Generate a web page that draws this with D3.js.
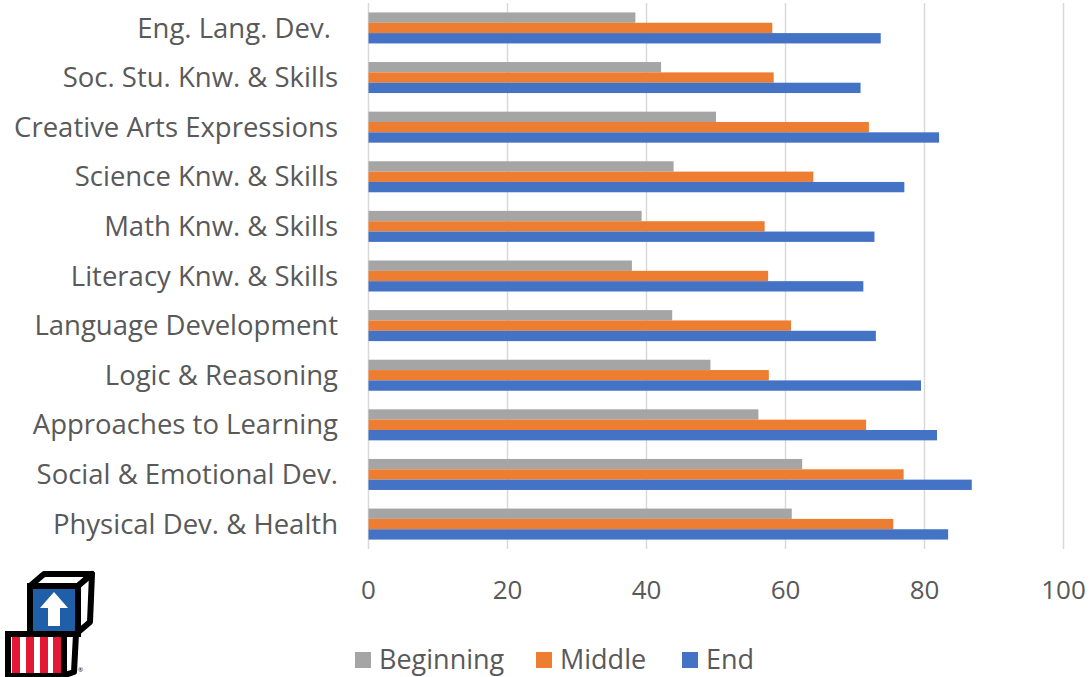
<!DOCTYPE html>
<html>
<head>
<meta charset="utf-8">
<script src="https://cdn.jsdelivr.net/npm/d3@7"></script>
<style>
  body { margin: 0; background: #fff; }
  svg { display: block; font-family: "Open Sans", sans-serif; }
</style>
</head>
<body>
<svg id="chart" width="1090" height="677"></svg>
<script>
// categories, top to bottom as shown
var categories = ['Eng. Lang. Dev. ', 'Soc. Stu. Knw. & Skills', 'Creative Arts Expressions',
  'Science Knw. & Skills', 'Math Knw. & Skills', 'Literacy Knw. & Skills', 'Language Development',
  'Logic & Reasoning', 'Approaches to Learning', 'Social & Emotional Dev.', 'Physical Dev. & Health'];
var series = ['Beginning', 'Middle', 'End'];
var beginning = [38.4, 42.1, 50.0, 43.9, 39.3, 37.9, 43.7, 49.2, 56.1, 62.4, 60.9];
var middle    = [58.1, 58.3, 72.0, 64.0, 57.0, 57.5, 60.8, 57.6, 71.6, 77.0, 75.5];
var end       = [73.7, 70.8, 82.1, 77.1, 72.8, 71.2, 73.0, 79.5, 81.8, 86.8, 83.4];
var xTicks = [0, 20, 40, 60, 80, 100];
var colors = ['#a5a5a5', '#ed7d31', '#4472c4'];

var values = [beginning, middle, end];
var rows = categories.map(function (c, i) {
  return {cat: c, vals: series.map(function (s, j) { return {s: s, v: values[j][i]}; })};
});

var svg = d3.select('#chart');
var x = d3.scaleLinear().domain([0, 100]).range([368.5, 1063.5]);
var y = d3.scaleBand().domain(categories).range([3, 549]).paddingInner(0.375).paddingOuter(0.19);
var yInner = d3.scaleBand().domain(series).range([0, y.bandwidth()]);
var color = d3.scaleOrdinal().domain(series).range(colors);

// gridlines
svg.append('g').selectAll('line').data(xTicks).enter().append('line')
  .attr('x1', function (d) { return x(d); }).attr('x2', function (d) { return x(d); })
  .attr('y1', 3).attr('y2', 549)
  .attr('stroke', '#d9d9d9').attr('stroke-width', 1.5);

// bars
var groups = svg.append('g').selectAll('g').data(rows).enter().append('g')
  .attr('transform', function (d) { return 'translate(0,' + y(d.cat) + ')'; });
groups.selectAll('rect').data(function (d) { return d.vals; }).enter().append('rect')
  .attr('x', x(0))
  .attr('y', function (d) { return yInner(d.s); })
  .attr('width', function (d) { return x(d.v) - x(0); })
  .attr('height', yInner.bandwidth())
  .attr('fill', function (d) { return color(d.s); });

// category labels
svg.append('g').selectAll('text').data(categories).enter().append('text')
  .attr('x', 338)
  .attr('y', function (d) { return y(d) + y.bandwidth() / 2; })
  .attr('dy', '0.35em')
  .attr('text-anchor', 'end')
  .attr('xml:space', 'preserve')
  .attr('font-size', 27.5).attr('fill', '#595959')
  .text(function (d) { return d; });

// x tick labels
svg.append('g').selectAll('text').data(xTicks).enter().append('text')
  .attr('x', function (d) { return x(d); })
  .attr('y', 590).attr('dy', '0.35em')
  .attr('text-anchor', 'middle')
  .attr('font-size', 26).attr('fill', '#595959')
  .text(function (d) { return d; });

// legend
var legX = [355, 536, 682];
var leg = svg.append('g').selectAll('g').data(series).enter().append('g')
  .attr('transform', function (d, i) { return 'translate(' + legX[i] + ',652)'; });
leg.append('rect').attr('width', 16).attr('height', 16).attr('fill', function (d) { return color(d); });
leg.append('text').attr('x', 24).attr('y', 8).attr('dy', '0.35em')
  .attr('font-size', 27).attr('fill', '#595959')
  .text(function (d) { return d; });

// logo (toy blocks)
var logo = svg.append('g').attr('transform', 'translate(4,572)');
// top block
logo.append('path').attr('d', 'M26,14 L40,2 L88,2 L74,14 Z').attr('fill', '#fff').attr('stroke', '#000').attr('stroke-width', 6).attr('stroke-linejoin', 'round');
logo.append('path').attr('d', 'M74,14 L88,2 L86,50 L72,62 Z').attr('fill', '#fff').attr('stroke', '#000').attr('stroke-width', 6).attr('stroke-linejoin', 'round');
logo.append('rect').attr('x', 26).attr('y', 14).attr('width', 48).attr('height', 48).attr('fill', '#1f5fa8').attr('stroke', '#000').attr('stroke-width', 6);
logo.append('path').attr('d', 'M50,20 L64,36 L56,36 L56,54 L44,54 L44,36 L36,36 Z').attr('fill', '#fff');
// bottom block
logo.append('path').attr('d', 'M60,62 L72,62 L70,100 L58,104 Z').attr('fill', '#fff').attr('stroke', '#000').attr('stroke-width', 6).attr('stroke-linejoin', 'round');
logo.append('rect').attr('x', 4).attr('y', 62).attr('width', 56).attr('height', 42).attr('fill', '#fff').attr('stroke', '#000').attr('stroke-width', 6);
[8, 22, 36, 49].forEach(function (sx) {
  logo.append('rect').attr('x', sx).attr('y', 65).attr('width', 8).attr('height', 36).attr('fill', '#e31837');
});
logo.append('text').attr('x', 74).attr('y', 100).attr('font-size', 6).attr('fill', '#000').text('®');
</script>
</body>
</html>
